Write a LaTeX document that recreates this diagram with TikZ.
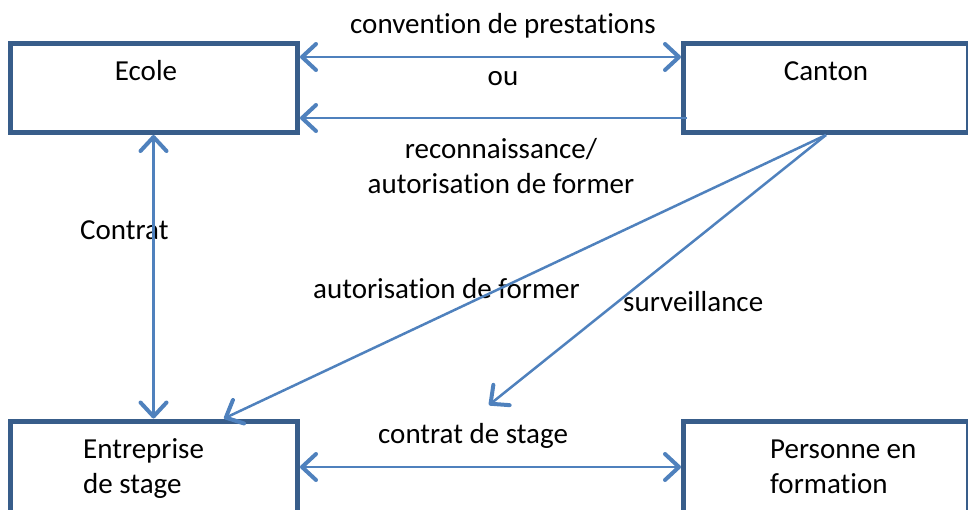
\documentclass[tikz,border=0pt]{standalone}
\usepackage{fontspec}
\setmainfont{Carlito}[RawFeature={-liga,-clig,-dlig,-calt}]
\usetikzlibrary{arrows.meta}
\definecolor{boxc}{HTML}{385D8A}
\definecolor{arrc}{HTML}{4F81BD}
\begin{document}
\begin{tikzpicture}[x=1pt,y=-1pt,
  box/.style={draw=boxc, line width=5pt, rectangle, inner sep=0pt},
  txt/.style={inner sep=0pt, font=\fontsize{29}{35}\selectfont},
  conn/.style={draw=arrc, line width=2.5pt},
  barb/.tip={Straight Barb[length=14pt,width=26pt,line width=4pt,round]}
]
\useasboundingbox (0,0) rectangle (968,509);
\clip (0,0) rectangle (968,509);

% boxes
\node[box, minimum width=287pt, minimum height=89pt] (ecole) at (154,88) {};
\node[box, minimum width=285pt, minimum height=89pt] (canton) at (826,88) {};
\node[box, minimum width=287pt, minimum height=139pt] (ent) at (154,490.5) {};
\node[box, minimum width=285pt, minimum height=139pt] (pers) at (826,490.5) {};

% box texts
\node[txt, anchor=base] (ecoleT) at (146,80) {Ecole};
\node[txt, anchor=base] (cantonT) at (826,80) {Canton};
\node[txt, anchor=base west, align=left] (entT) at (83,493) {Entreprise\\de stage};
\node[txt, anchor=base west, align=left] (persT) at (770,493) {Personne en\\formation};

% labels
\node[txt, anchor=base] (conv) at (503,33) {convention de prestations};
\node[txt, anchor=base] (ou) at (503,85) {ou};
\node[txt, anchor=base, align=center] (reco) at (501,193) {reconnaissance/\\autorisation de former};
\node[txt, anchor=base west] (contrat) at (80,239) {Contrat};
\node[txt, anchor=base west] (autor) at (313,298) {autorisation de former};
\node[txt, anchor=base west] (surv) at (623,311) {surveillance};
\node[txt, anchor=base west] (cstage) at (378,443) {contrat de stage};

% connectors
\coordinate (survEnd) at (489,405);
\draw[conn, barb-barb] (ecole.east |- 0,57) -- (canton.west |- 0,57);
\draw[conn, -barb, shorten <=-6pt] (canton.west |- 0,118) -- (ecole.east |- 0,118);
\draw[conn, barb-barb] (ecole.south -| 153.5,0) -- (ent.north -| 153.5,0);
\draw[conn, -barb] (canton.south) -- (ent.north -| 224,0);
\draw[conn, -barb] (canton.south) -- (survEnd);
\draw[conn, barb-barb] (ent.east |- 0,467) -- (pers.west |- 0,467);
\end{tikzpicture}
\end{document}
